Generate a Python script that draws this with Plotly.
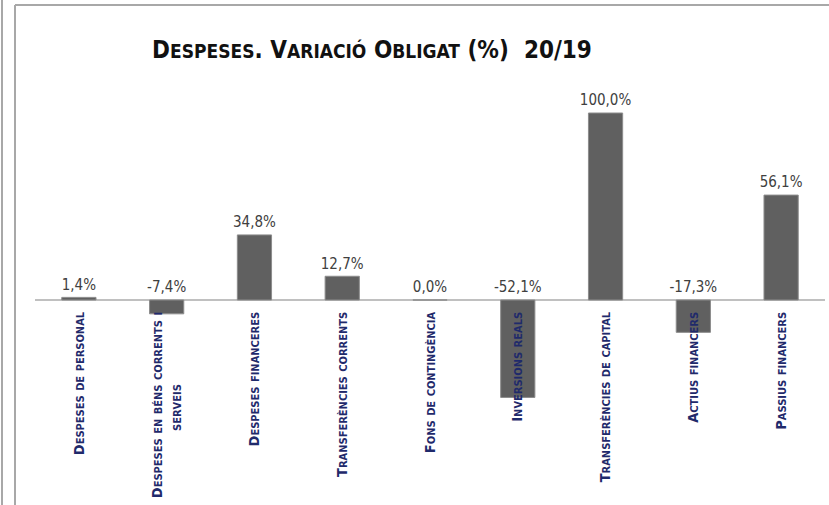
import plotly.graph_objects as go

categories = [
    "Despeses de personal",
    "Despeses en béns corrents i<br>serveis",
    "Despeses financeres",
    "Transferències corrents",
    "Fons de contingència",
    "Inversions reals",
    "Transferències de capital",
    "Actius financers",
    "Passius financers",
]
values = [1.4, -7.4, 34.8, 12.7, 0.0, -52.1, 100.0, -17.3, 56.1]
title_text = "Despeses. Variació Obligat (%)  20/19"

W, H = 829, 505
L, R, T, B = 35, 4, 60, 105
ZERO_PX = 300
PX_PER_UNIT = 1.87
plot_h = H - T - B
y_top = (ZERO_PX - T) / PX_PER_UNIT
y_bot = -(H - B - ZERO_PX) / PX_PER_UNIT
LABEL_GAP = 4 / PX_PER_UNIT

FONT = "Liberation Sans Narrow, DejaVu Sans Condensed, Roboto Condensed, Liberation Sans, sans-serif"


def small_caps_line(s, small_px):
    out = []
    run = ""
    for ch in s:
        if ch.islower():
            run += ch.upper()
        else:
            if run:
                out.append(f'<span style="font-size:{small_px}px">{run}</span>')
                run = ""
            out.append(ch)
    if run:
        out.append(f'<span style="font-size:{small_px}px">{run}</span>')
    return "".join(out)


def small_caps(s, small_px, pad_extra_lines=0):
    parts = s.split("<br>")
    lines = [small_caps_line(p, small_px) for p in parts]
    if pad_extra_lines:
        # rotated labels are end-aligned: pad wrapped lines so they sit centred
        lines = [lines[0]] + [
            ln + f'<span style="font-size:{small_px}px">' + "\u00a0" * pad_extra_lines + "</span>"
            for ln in lines[1:]
        ]
    return "<br>".join(lines)


def fmt(v):
    return f"{v:.1f}".replace(".", ",") + "%"


tick_text = ["<b>" + small_caps(c, 11, pad_extra_lines=21) + "</b>" for c in categories]
label_y = [max(v, 0) + LABEL_GAP for v in values]
labels = [fmt(v) for v in values]

fig = go.Figure()
fig.add_trace(go.Bar(
    x=categories, y=values, width=0.39,
    marker=dict(color="#606060", line=dict(color="#8c8c8c", width=1)),
    hoverinfo="skip",
))
fig.add_trace(go.Scatter(
    x=categories, y=label_y, mode="text", text=labels,
    textposition="top center",
    textfont=dict(family=FONT, size=15, color="#404040"),
    cliponaxis=False, hoverinfo="skip",
))


def px_x(px):
    return (px - L) / (W - L - R)


def px_y(py):
    return (H - B - py) / plot_h


line_col = "#a8a8a8"
fig.add_shape(type="line", xref="paper", yref="paper",
              x0=px_x(2), x1=px_x(2), y0=px_y(-5), y1=px_y(H + 5),
              line=dict(color=line_col, width=2))
fig.add_shape(type="line", xref="paper", yref="paper",
              x0=px_x(15), x1=px_x(15), y0=px_y(5), y1=px_y(H + 5),
              line=dict(color=line_col, width=2))
fig.add_shape(type="line", xref="paper", yref="paper",
              x0=px_x(15), x1=px_x(W + 5), y0=px_y(5), y1=px_y(5),
              line=dict(color=line_col, width=2))

fig.update_layout(
    width=W, height=H,
    margin=dict(l=L, r=R, t=T, b=B, autoexpand=False),
    paper_bgcolor="white", plot_bgcolor="white",
    showlegend=False,
    title=dict(
        text="<b>" + small_caps(title_text, 19) + "</b>",
        x=372 / W, xref="container", xanchor="center",
        y=1 - 50 / H, yref="container", yanchor="middle",
        font=dict(family=FONT, size=24, color="#111111"),
    ),
    xaxis=dict(
        tickmode="array", tickvals=categories,
        ticktext=tick_text,
        tickangle=-90, anchor="free", position=px_y(ZERO_PX),
        showgrid=False, showline=False, ticks="",
        ticklabelstandoff=8, automargin=False,
        tickfont=dict(family=FONT, size=14.5, color="#1f2a6b"),
    ),
    yaxis=dict(
        range=[y_bot, y_top], showgrid=False, showticklabels=False,
        zeroline=True, zerolinecolor="#c0c0c0", zerolinewidth=1.5,
        ticks="", automargin=False,
    ),
)

fig.write_html(
    "out.html",
    config={"displayModeBar": False},
    post_script="document.body.style.margin='0';document.body.style.overflow='hidden';",
)
